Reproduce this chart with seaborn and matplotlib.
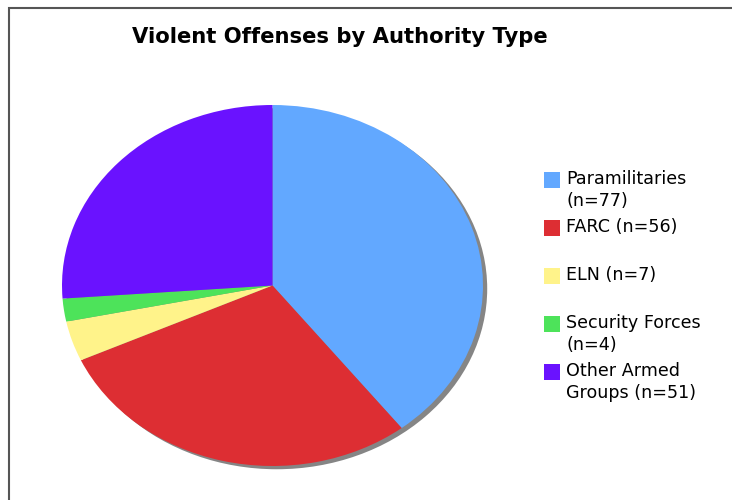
import matplotlib
matplotlib.use("Agg")
import matplotlib.pyplot as plt
import seaborn as sns
from matplotlib.patches import Ellipse, Rectangle

# Data
groups = ["Paramilitaries", "FARC", "ELN", "Security Forces", "Other Armed Groups"]
counts = [77, 56, 7, 4, 51]
legend_labels = ["Paramilitaries\n(n=77)", "FARC (n=56)", "ELN (n=7)",
                 "Security Forces\n(n=4)", "Other Armed\nGroups (n=51)"]
colors = ["#62A8FF", "#DD2E33", "#FFF38A", "#4DE35A", "#6A12FF"]

sns.set_theme(style="white")
plt.rcParams['font.family'] = ['DejaVu Sans']

W, H = 732, 500
fig = plt.figure(figsize=(W / 100, H / 100), dpi=100)
fig.patch.set_facecolor("white")

# outer frame (runs off the right and bottom edges)
fig.patches.append(Rectangle((9 / W, -0.1), 1.2, 1 - 7.5 / H + 0.1, transform=fig.transFigure,
                             fill=False, edgecolor="#555555", linewidth=1.5))

# pie axes, stretched into an ellipse
left, right, top, bottom = 62, 483, 105, 466
ax = fig.add_axes([left / W, 1 - bottom / H, (right - left) / W, (bottom - top) / H])
shadow = Ellipse((0.02, -0.018), 2, 2, facecolor="#858585", edgecolor="none", zorder=0,
                 clip_on=False)
ax.add_patch(shadow)
ax.pie(counts, colors=colors, startangle=90, counterclock=False,
       wedgeprops=dict(linewidth=0, zorder=1))
ax.set_aspect("auto")
ax.set_xlim(-1, 1)
ax.set_ylim(-1, 1)
ax.axis("off")

fig.text(340 / W, 1 - 37 / H, "Violent Offenses by Authority Type", ha="center", va="center",
         fontsize=15.2, fontweight="bold", color="black")

# legend
for i, (lab, col) in enumerate(zip(legend_labels, colors)):
    y = 180 + i * 48
    fig.patches.append(Rectangle((544 / W, 1 - (y + 8) / H), 16 / W, 16 / H,
                                 transform=fig.transFigure, facecolor=col, edgecolor="none"))
    fig.text(566 / W, 1 - (y - 10) / H, lab, ha="left", va="top", fontsize=12.6,
             color="black", linespacing=1.3)

fig.savefig("out.png", dpi=100)
